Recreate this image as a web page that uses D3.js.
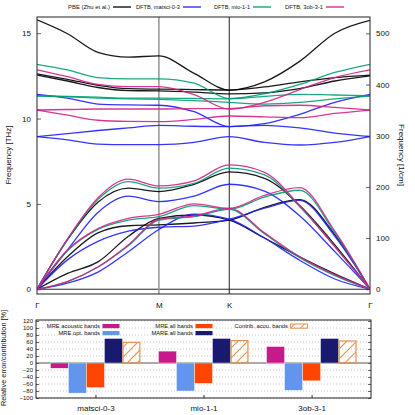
<!DOCTYPE html>
<html><head><meta charset="utf-8">
<script src="https://cdn.jsdelivr.net/npm/d3@7"></script>
<style>body{margin:0;background:#fff} svg{display:block} text{font-family:"Liberation Sans",Arial,sans-serif;fill:#111}</style>
</head><body><svg id="c" width="415" height="415"></svg>
<script>
// ---------- data ----------
const kPoints = [0, 0.25, 0.5, 0.75, 1, 1.2887, 1.5774, 1.866, 2.1547, 2.4434, 2.7321];
const kTickPos = [0, 1, 1.5774, 2.7321];
const kTickLabels = ["Γ", "M", "K", "Γ"];
const thzTicks = [0, 5, 10, 15];
const cmTicks = [0, 100, 200, 300, 400, 500];
const seriesNames = ["PBE (Zhu et al.)", "DFTB, matsci-0-3", "DFTB, mio-1-1", "DFTB, 3ob-3-1"];
const seriesColors = ["#000000", "#1f1fff", "#009e73", "#d4208c"];

const pbeBands = [
  [0, 2.9, 5.1, 5.92, 5.72, 6.15, 6.87, 6.5, 4.9, 2.6, 0],
  [0, 1.9, 3.3, 3.72, 3.77, 3.88, 4.05, 4.8, 5.25, 3.2, 0],
  [0, 0.93, 1.6, 3.1, 4.15, 4.35, 4.05, 3.0, 1.9, 0.9, 0],
  [15.78, 14.97, 13.88, 13.6, 13.67, 12.65, 11.67, 12.15, 13.35, 15.0, 15.75],
  [12.62, 12.3, 11.95, 11.75, 11.72, 11.7, 11.67, 11.85, 12.15, 12.4, 12.55],
  [12.55, 12.2, 11.82, 11.64, 11.62, 11.55, 11.45, 11.5, 11.75, 12.2, 12.5]
];
const matsciBands = [
  [0, 2.3, 4.5, 5.45, 5.13, 5.45, 6.15, 5.75, 4.3, 2.2, 0],
  [0, 1.72, 2.8, 3.4, 3.63, 3.7, 4.1, 4.75, 5.2, 3.1, 0],
  [0, 0.35, 1.0, 2.2, 3.5, 4.4, 4.1, 3.0, 1.7, 0.6, 0],
  [11.42, 11.2, 10.85, 10.8, 10.78, 10.4, 9.53, 9.7, 10.25, 10.95, 11.42],
  [8.94, 9.12, 9.3, 9.45, 9.6, 9.55, 9.53, 9.6, 9.45, 9.15, 8.94],
  [8.94, 8.75, 8.5, 8.47, 8.47, 8.6, 8.94, 8.6, 8.45, 8.6, 8.94]
];
const mioBands = [
  [0, 2.9, 5.25, 6.3, 5.92, 6.2, 7.09, 6.7, 4.85, 2.5, 0],
  [0, 2.25, 3.5, 4.05, 4.25, 4.9, 4.68, 5.4, 5.8, 3.3, 0],
  [0, 0.45, 1.3, 2.55, 4.05, 4.25, 4.68, 3.25, 1.85, 0.8, 0],
  [13.18, 12.85, 12.4, 12.33, 12.33, 12.08, 11.17, 11.45, 12.0, 12.7, 13.18],
  [11.34, 11.3, 11.25, 11.2, 11.2, 11.18, 11.15, 11.3, 11.42, 11.38, 11.34],
  [11.32, 11.27, 11.2, 11.15, 11.12, 11.05, 10.95, 10.85, 10.95, 11.15, 11.32]
];
const ob3Bands = [
  [0, 2.95, 5.35, 6.45, 6.05, 6.35, 7.28, 6.85, 4.9, 2.5, 0],
  [0, 2.3, 3.55, 4.15, 4.39, 5.0, 4.74, 5.5, 5.95, 3.4, 0],
  [0, 0.45, 1.3, 2.6, 4.1, 4.3, 4.74, 3.3, 1.9, 0.85, 0],
  [12.85, 12.45, 12.0, 11.87, 11.87, 11.4, 10.55, 10.95, 11.7, 12.4, 12.85],
  [10.5, 10.53, 10.56, 10.56, 10.56, 10.58, 10.58, 10.75, 10.78, 10.65, 10.5],
  [10.5, 10.2, 9.9, 9.83, 9.82, 9.95, 10.15, 10.1, 10.05, 10.3, 10.5]
];

const groups = ["matsci-0-3", "mio-1-1", "3ob-3-1"];
const mreAcoustic = [-15, 34, 47];
const mreOptical = [-86, -80, -78];
const mreAll = [-70, -58, -51];
const mareAll = [70, 70, 70];
const contribAcoustic = [59, 64, 63];
const barTicks = [-100, -80, -60, -40, -20, 0, 20, 40, 60, 80, 100, 120];
const barNames = ["MRE acoustic bands", "MRE opt. bands", "MRE all bands", "MARE all bands", "Contrib. acou. bands"];
const barColors = ["#c8198a", "#6495ed", "#ff4500", "#191970", "#e8904f"];

// ---------- top chart ----------
const THZ_TO_CM = 33.356;
const FONT = "Liberation Sans, Arial, sans-serif";
const svg = d3.select("#c");
const x = d3.scaleLinear().domain([0, 2.7321]).range([37, 370]);
const y = d3.scaleLinear().domain([-0.28, 15.95]).range([294, 17]);
const yc = d3.scaleLinear().domain([-0.28 * THZ_TO_CM, 15.95 * THZ_TO_CM]).range([294, 17]);

const defs = svg.append("defs");
defs.append("clipPath").attr("id", "clipTop")
  .append("rect").attr("x", 37).attr("y", 17).attr("width", 333).attr("height", 277);

function styleAxis(g, size) {
  g.select(".domain").remove();
  g.selectAll("text").style("font-size", size).style("font-family", FONT).attr("fill", "#111");
  g.selectAll("line").attr("stroke", "#666");
}
const gl = svg.append("g").attr("transform", "translate(37,0)")
  .call(d3.axisLeft(y).tickValues(thzTicks).tickSize(-4).tickPadding(6));
const gr = svg.append("g").attr("transform", "translate(370,0)")
  .call(d3.axisRight(yc).tickValues(cmTicks).tickSize(-4).tickPadding(6));
const gb = svg.append("g").attr("transform", "translate(0,294)")
  .call(d3.axisBottom(x).tickValues(kTickPos).tickFormat((d, i) => kTickLabels[i]).tickSize(0).tickPadding(8));
[gl, gr, gb].forEach(g => styleAxis(g, "8px"));

svg.append("line").attr("x1", 37).attr("x2", 370).attr("y1", y(0)).attr("y2", y(0)).attr("stroke", "#222").attr("stroke-width", 1);
svg.append("line").attr("x1", x(kTickPos[1])).attr("x2", x(kTickPos[1])).attr("y1", 17).attr("y2", 294).attr("stroke", "#9a9a9a").attr("stroke-width", 1.6);
svg.append("line").attr("x1", x(kTickPos[2])).attr("x2", x(kTickPos[2])).attr("y1", 17).attr("y2", 294).attr("stroke", "#222").attr("stroke-width", 1);

const line = d3.line().x((d, i) => x(kPoints[i])).y(d => y(d)).curve(d3.curveMonotoneX);
const allBands = [pbeBands, matsciBands, mioBands, ob3Bands];
const gLines = svg.append("g").attr("clip-path", "url(#clipTop)");
allBands.forEach((bands, s) => {
  bands.forEach(b => {
    gLines.append("path").attr("d", line(b)).attr("fill", "none")
      .attr("stroke", seriesColors[s]).attr("stroke-width", 1.3).attr("stroke-opacity", 0.9);
  });
});

svg.append("rect").attr("x", 37).attr("y", 17).attr("width", 333).attr("height", 277)
  .attr("fill", "none").attr("stroke", "#222").attr("stroke-width", 1);

svg.append("text").attr("transform", "translate(11,155) rotate(-90)").attr("text-anchor", "middle")
  .style("font-size", "8px").text("Frequency [THz]");
svg.append("text").attr("transform", "translate(399,155) rotate(90)").attr("text-anchor", "middle")
  .style("font-size", "8px").text("Frequency [1/cm]");

// top legend
const legStart = [68, 136, 214, 285];
const legEnd = [110, 180, 250, 323];
seriesNames.forEach((n, i) => {
  svg.append("text").attr("x", legStart[i]).attr("y", 9.3)
    .attr("textLength", legEnd[i] - legStart[i]).attr("lengthAdjust", "spacingAndGlyphs")
    .style("font-size", "6px").text(n);
  svg.append("line").attr("x1", legEnd[i] + 3).attr("x2", legEnd[i] + 21).attr("y1", 7).attr("y2", 7)
    .attr("stroke", seriesColors[i]).attr("stroke-width", 1.3);
});

// ---------- bottom chart ----------
const xb = d3.scaleLinear().domain([-0.55, 2.55]).range([36, 371]);
const yb = d3.scaleLinear().domain([-100, 120]).range([398, 321]);
const pat = defs.append("pattern").attr("id", "hatch").attr("patternUnits", "userSpaceOnUse")
  .attr("width", 7).attr("height", 7).attr("patternTransform", "rotate(-45)");
pat.append("line").attr("x1", 0).attr("x2", 7).attr("y1", 3.5).attr("y2", 3.5)
  .attr("stroke", barColors[4]).attr("stroke-width", 1);

barTicks.forEach(t => {
  svg.append("line").attr("x1", 36).attr("x2", 371).attr("y1", yb(t)).attr("y2", yb(t))
    .attr("stroke", t === 0 ? "#555" : "#bbb").attr("stroke-width", t === 0 ? 1 : 0.8)
    .attr("stroke-dasharray", t === 0 ? null : "1,2");
});
const gyb = svg.append("g").attr("transform", "translate(36,0)")
  .call(d3.axisLeft(yb).tickValues(barTicks).tickSize(-3).tickPadding(3));
styleAxis(gyb, "6px");
const gyr = svg.append("g").attr("transform", "translate(371,0)")
  .call(d3.axisRight(yb).tickValues(barTicks).tickSize(-3).tickFormat(""));
gyr.select(".domain").remove();
gyr.selectAll("line").attr("stroke", "#666");
const gxb = svg.append("g").attr("transform", "translate(0,398)")
  .call(d3.axisBottom(xb).tickValues([0, 1, 2]).tickFormat((d, i) => groups[i]).tickSize(-3).tickPadding(7));
styleAxis(gxb, "8px");
gxb.selectAll("line").attr("stroke", "#333");

const barSeries = [mreAcoustic, mreOptical, mreAll, mareAll, contribAcoustic];
const bw = 1 / 6;
barSeries.forEach((vals, s) => {
  vals.forEach((v, g) => {
    const cx = g + (s - 2) * bw;
    const x0 = xb(cx - bw / 2), x1 = xb(cx + bw / 2);
    const r = svg.append("rect").attr("x", x0).attr("width", x1 - x0)
      .attr("y", yb(Math.max(0, v))).attr("height", Math.abs(yb(v) - yb(0)));
    if (s === 4) r.attr("x", x0 + 0.6).attr("width", x1 - x0 - 1.2).attr("fill", "url(#hatch)").attr("stroke", barColors[4]).attr("stroke-width", 1.2);
    else r.attr("fill", barColors[s]).attr("stroke", "#fff").attr("stroke-width", 0.4);
  });
});

svg.append("rect").attr("x", 36).attr("y", 320).attr("width", 335).attr("height", 78)
  .attr("fill", "none").attr("stroke", "#222").attr("stroke-width", 1);

// bar legend
const legItems = [
  {s: 0, xe: 100, yy: 326},
  {s: 1, xe: 100, yy: 333},
  {s: 2, xe: 193, yy: 326},
  {s: 3, xe: 193, yy: 333},
  {s: 4, xe: 288, yy: 326}
];
legItems.forEach(it => {
  svg.append("text").attr("x", it.xe).attr("y", it.yy + 2).attr("text-anchor", "end")
    .style("font-size", "5.8px").text(barNames[it.s]);
  const r = svg.append("rect").attr("x", it.xe + 2.5).attr("y", it.yy - 2).attr("width", 17).attr("height", 4.2);
  if (it.s === 4) r.attr("fill", "url(#hatch)").attr("stroke", barColors[4]).attr("stroke-width", 1);
  else r.attr("fill", barColors[it.s]);
});

svg.append("text").attr("transform", "translate(6,358) rotate(-90)").attr("text-anchor", "middle")
  .style("font-size", "7.3px").text("Relative error/contribution [%]");
</script>
</body></html>
